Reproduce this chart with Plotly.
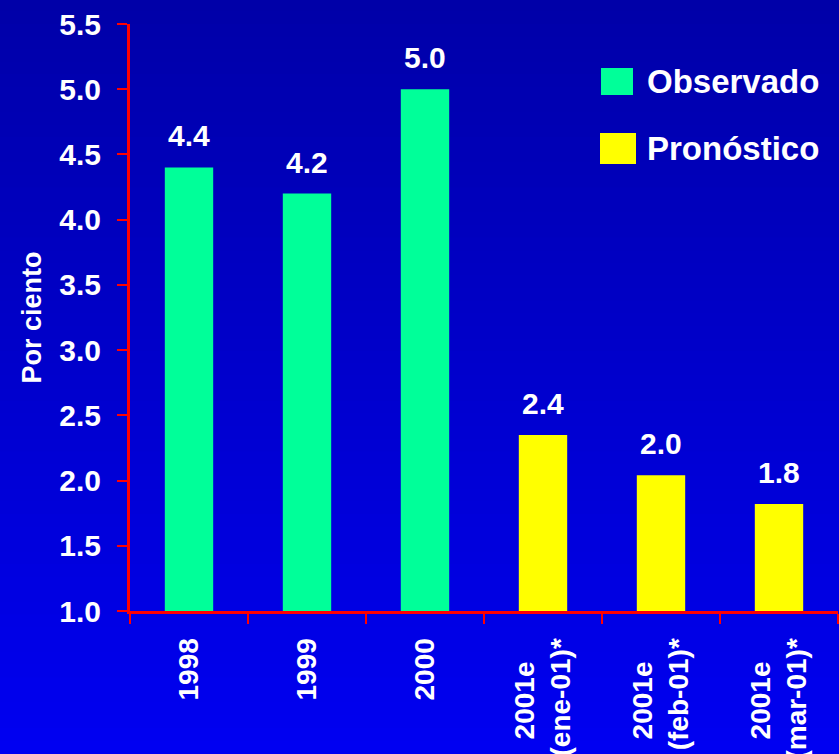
import plotly.graph_objects as go

tick_labels = ["1998", "1999", "2000",
               "2001e\u00a0\u00a0\u00a0<br>(ene-01)*",
               "2001e\u00a0\u00a0\u00a0<br>(feb-01)*",
               "2001e\u00a0\u00a0\u00a0<br>(mar-01)*"]
obs_cats = tick_labels[:3]
obs_vals = [4.4, 4.2, 5.0]
pron_cats = tick_labels[3:]
pron_vals = [2.35, 2.04, 1.82]
bar_labels = ["4.4", "4.2", "5.0", "2.4", "2.0", "1.8"]
all_vals = obs_vals + pron_vals

FONT = "Liberation Sans, Arial, sans-serif"
GREEN = "#00FF99"
YELLOW = "#FFFF00"

fig = go.Figure()
fig.add_trace(go.Bar(x=obs_cats, y=obs_vals, name="Observado", marker_color=GREEN,
                     marker_line_width=0, width=0.41))
fig.add_trace(go.Bar(x=pron_cats, y=pron_vals, name="Pronóstico", marker_color=YELLOW,
                     marker_line_width=0, width=0.41))

# background gradient (figure-wide)
W, H = 839, 754
L, R, T, B = 130, 1, 24, 143
pw, ph = W - L - R, H - T - B
n = 60
for i in range(n):
    f0 = i / n
    f1 = (i + 1) / n
    py0 = f0 * H
    py1 = f1 * H
    c = int(168 + (242 - 168) * (f0 + 0.5 / n))
    fig.add_shape(type="rect", xref="paper", yref="paper",
                  x0=-L / pw - 0.01, x1=1 + R / pw + 0.01,
                  y0=1 + (T - py1) / ph, y1=1 + (T - py0) / ph + 0.002,
                  fillcolor=f"rgb(0,0,{c})", line_width=0, layer="below")

# bar value labels
for i, (v, lab) in enumerate(zip(all_vals, bar_labels)):
    fig.add_annotation(x=i, y=v, xref="x", yref="y", text=lab, showarrow=False, yanchor="bottom",
                       yshift=13, font=dict(family=FONT, size=30, color="white", weight="bold"))

# custom legend
legend_items = [("Observado", GREEN, 68, 95, 601, 633), ("Pronóstico", YELLOW, 133, 164, 600, 636)]
for name, col, ytop, ybot, xl, xr in legend_items:
    fig.add_shape(type="rect", xref="paper", yref="paper",
                  x0=(xl - L) / pw, x1=(xr - L) / pw,
                  y0=1 - (ybot - T) / ph, y1=1 - (ytop - T) / ph,
                  fillcolor=col, line_width=0)
    fig.add_annotation(xref="paper", yref="paper", x=(645 - L) / pw,
                       y=1 - ((ytop + ybot) / 2 - T) / ph, text=name, showarrow=False,
                       xanchor="left", yanchor="middle",
                       font=dict(family=FONT, size=33, color="white", weight="bold"))

fig.update_layout(
    width=W, height=H,
    margin=dict(l=L, r=R, t=T, b=B, pad=0),
    paper_bgcolor="#0000C8",
    plot_bgcolor="rgba(0,0,0,0)",
    barmode="overlay",
    showlegend=False,
    font=dict(family=FONT, color="white"),
)
fig.update_xaxes(
    type="category", categoryorder="array", categoryarray=tick_labels,
    range=[-0.5, len(tick_labels) - 0.5],
    tickangle=-90, tickson="boundaries",
    ticks="outside", ticklen=10, tickwidth=2, tickcolor="red",
    showline=True, linecolor="red", linewidth=3,
    showgrid=False, zeroline=False,
    tickfont=dict(family=FONT, size=28, color="white", weight="bold"),
    ticklabelstandoff=13,
    automargin=False,
)
fig.update_yaxes(
    range=[1, 5.5], tickvals=[1.0, 1.5, 2.0, 2.5, 3.0, 3.5, 4.0, 4.5, 5.0, 5.5],
    tickformat=".1f",
    ticks="outside", ticklen=10, tickwidth=2, tickcolor="red",
    showline=True, linecolor="red", linewidth=3,
    showgrid=False, zeroline=False,
    tickfont=dict(family=FONT, size=30, color="white", weight="bold"),
    ticklabelstandoff=10,
    title=dict(text="Por ciento", font=dict(family=FONT, size=27, color="white", weight="bold"), standoff=10),
    automargin=False,
)

fig.write_html("out.html", config={"displayModeBar": False},
               post_script="document.body.style.margin='0';document.body.style.overflow='hidden';")
